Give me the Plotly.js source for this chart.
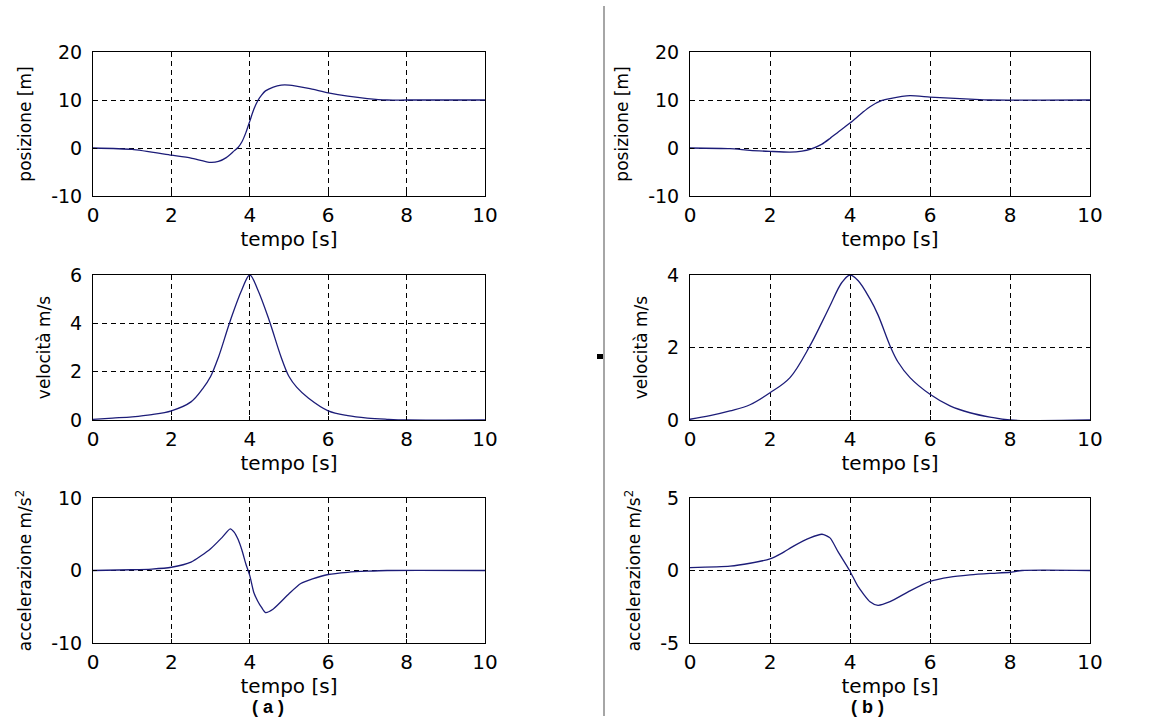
<!DOCTYPE html>
<html>
<head>
<meta charset="utf-8">
<script src="https://cdn.plot.ly/plotly-3.0.1.min.js"></script>
<style>html,body{margin:0;padding:0;background:#fff;}#chart{width:1164px;height:727px;}</style>
</head>
<body>
<div id="chart"></div>
<script>
// ---- data ----
const xTickVals = [0, 2, 4, 6, 8, 10];
const xTickText = ["0", "2", "4", "6", "8", "10"];

// (a) posizione
const posA_t = [0, 1, 2, 2.5, 3, 3.2, 3.4, 3.6, 3.7, 3.8, 3.9, 4.0, 4.1, 4.2, 4.3, 4.4, 4.6, 4.8, 5.0, 5.5, 6.0, 6.5, 7.0, 7.5, 8, 10];
const posA_y = [0, -0.3, -1.5, -2.1, -3, -2.8, -2, -0.6, 0.1, 1.3, 3.2, 5.6, 8, 9.8, 11, 11.9, 12.7, 13.1, 13.1, 12.4, 11.5, 10.8, 10.3, 10, 10, 10];
// (a) velocità
const velA_t = [0, 0.5, 1, 1.5, 2, 2.5, 2.8, 3, 3.2, 3.5, 3.8, 4, 4.2, 4.5, 4.8, 5, 5.2, 5.5, 6, 6.5, 7, 7.5, 8, 10];
const velA_y = [0.03, 0.08, 0.13, 0.22, 0.38, 0.75, 1.3, 1.8, 2.6, 4.1, 5.4, 6, 5.4, 4.1, 2.6, 1.8, 1.35, 0.9, 0.38, 0.18, 0.08, 0.03, 0, 0];
// (a) accelerazione
const accA_t = [0, 1, 1.5, 2, 2.5, 3, 3.3, 3.5, 3.6, 3.7, 3.8, 3.9, 4, 4.1, 4.2, 4.3, 4.4, 4.6, 5, 5.3, 5.6, 6, 6.5, 7, 7.5, 10];
const accA_y = [0, 0.1, 0.2, 0.45, 1.15, 3, 4.6, 5.75, 5.3, 4.3, 2.8, 0.9, -0.7, -3, -4.2, -5.1, -5.8, -5.3, -3.2, -1.8, -1.15, -0.55, -0.25, -0.1, 0, 0];

// (b) posizione
const posB_t = [0, 1, 1.5, 2, 2.5, 2.8, 3, 3.3, 3.5, 3.7, 4, 4.3, 4.5, 4.8, 5, 5.5, 6, 6.5, 7, 7.5, 10];
const posB_y = [0, -0.15, -0.5, -0.7, -0.85, -0.65, -0.3, 0.8, 2.0, 3.3, 5.2, 7.3, 8.6, 9.9, 10.3, 10.9, 10.6, 10.4, 10.2, 10, 10];
// (b) velocità
const velB_t = [0, 0.5, 1, 1.5, 2, 2.5, 3, 3.3, 3.5, 3.8, 4, 4.2, 4.5, 4.7, 5, 5.2, 5.5, 6, 6.5, 7, 7.5, 8, 10];
const velB_y = [0.02, 0.12, 0.25, 0.42, 0.75, 1.17, 2.05, 2.7, 3.15, 3.8, 4, 3.85, 3.34, 2.9, 2.05, 1.6, 1.17, 0.71, 0.39, 0.2, 0.08, 0, 0];
// (b) accelerazione
const accB_t = [0, 1, 1.5, 2, 2.3, 2.6, 3, 3.3, 3.5, 3.7, 4, 4.2, 4.5, 4.7, 5, 5.5, 6, 6.5, 7, 7.5, 8, 8.3, 10];
const accB_y = [0.2, 0.3, 0.5, 0.8, 1.2, 1.7, 2.25, 2.5, 2.25, 1.3, -0.05, -1.1, -2.15, -2.4, -2.15, -1.4, -0.75, -0.45, -0.3, -0.2, -0.12, 0, 0];

// y-axis ticks and titles
const posTickVals = [-10, 0, 10, 20];
const posTickText = ["-10", "0", "10", "20"];
const velATickVals = [0, 2, 4, 6];
const velBTickVals = [0, 2, 4];
const accATickVals = [-10, 0, 10];
const accATickText = ["-10", "0", "10"];
const accBTickVals = [-5, 0, 5];
const accBTickText = ["-5", "0", "5"];
const xTitle = "tempo [s]";
const yTitles = ["posizione [m]", "velocità m/s", "accelerazione m/s<sup>2</sup>"];
const panelLabels = ["( a )", "( b )"];

// ---- layout helpers ----
const W = 1164, H = 727;
const FONT = "DejaVu Sans, Arial, sans-serif";
const lineColor = "#1c1c78";
const colX = [[93, 485], [690, 1090]];
const rowY = [[52, 196], [275, 420], [498, 643]];
const px2x = p => p / W;
const px2y = p => 1 - p / H;

function xAxis(col, row, anchor) {
  return {
    domain: [px2x(colX[col][0]), px2x(colX[col][1])],
    anchor: anchor,
    range: [0, 10],
    tickmode: "array", tickvals: xTickVals, ticktext: xTickText,
    ticks: "inside", ticklen: 4, tickcolor: "#000",
    showline: true, linecolor: "#000", linewidth: 1, mirror: true,
    showgrid: true, gridcolor: "#000", gridwidth: 1, griddash: "5px,4px",
    zeroline: false,
    tickfont: {family: FONT, size: 20, color: "#000"},
    ticklabelstandoff: 1,
    title: {text: xTitle, font: {family: FONT, size: 20, color: "#000"}, standoff: 2},
    fixedrange: true
  };
}
function yAxis(col, row, anchor, range, vals, text, title) {
  return {
    domain: [px2y(rowY[row][1]), px2y(rowY[row][0])],
    anchor: anchor,
    range: range,
    tickmode: "array", tickvals: vals, ticktext: text,
    ticks: "inside", ticklen: 4, tickcolor: "#000",
    showline: true, linecolor: "#000", linewidth: 1, mirror: true,
    showgrid: true, gridcolor: "#000", gridwidth: 1, griddash: "5px,4px",
    zeroline: false,
    tickfont: {family: FONT, size: 19, color: "#000"},
    ticklabelstandoff: 6,
    title: {text: title, font: {family: FONT, size: 17, color: "#000"}, standoff: 15},
    fixedrange: true
  };
}

const series = [
  [posA_t, posA_y, 0.6], [velA_t, velA_y, 1], [accA_t, accA_y, 0.6],
  [posB_t, posB_y, 0.6], [velB_t, velB_y, 1], [accB_t, accB_y, 0.6]
];
const traces = series.map((s, i) => ({
  x: s[0], y: s[1], type: "scatter", mode: "lines",
  line: {color: lineColor, width: 1.3, shape: "spline", smoothing: s[2]},
  xaxis: "x" + (i === 0 ? "" : i + 1),
  yaxis: "y" + (i === 0 ? "" : i + 1),
  hoverinfo: "skip", showlegend: false
}));

const labelFont = {family: "Liberation Sans, Arial, sans-serif", size: 18, color: "#000"};
const layout = {
  width: W, height: H,
  margin: {l: 0, r: 0, t: 0, b: 0},
  paper_bgcolor: "#fff", plot_bgcolor: "#fff",
  showlegend: false,
  font: {family: FONT, color: "#000"},
  xaxis:  xAxis(0, 0, "y"),
  yaxis:  yAxis(0, 0, "x",  [-10, 20], posTickVals, posTickText, yTitles[0]),
  xaxis2: xAxis(0, 1, "y2"),
  yaxis2: yAxis(0, 1, "x2", [0, 6], velATickVals, velATickVals.map(String), yTitles[1]),
  xaxis3: xAxis(0, 2, "y3"),
  yaxis3: yAxis(0, 2, "x3", [-10, 10], accATickVals, accATickText, yTitles[2]),
  xaxis4: xAxis(1, 0, "y4"),
  yaxis4: yAxis(1, 0, "x4", [-10, 20], posTickVals, posTickText, yTitles[0]),
  xaxis5: xAxis(1, 1, "y5"),
  yaxis5: yAxis(1, 1, "x5", [0, 4], velBTickVals, velBTickVals.map(String), yTitles[1]),
  xaxis6: xAxis(1, 2, "y6"),
  yaxis6: yAxis(1, 2, "x6", [-5, 5], accBTickVals, accBTickText, yTitles[2]),
  shapes: [
    {type: "line", xref: "paper", yref: "paper",
     x0: px2x(604), x1: px2x(604), y0: px2y(6), y1: px2y(716),
     line: {color: "#a6a6a6", width: 2}},
    {type: "rect", xref: "paper", yref: "paper",
     x0: px2x(597), x1: px2x(603), y0: px2y(354), y1: px2y(359),
     fillcolor: "#000", line: {width: 0}}
  ],
  annotations: [
    {text: "<b>" + panelLabels[0] + "</b>", xref: "paper", yref: "paper",
     x: px2x(268), y: px2y(707), xanchor: "center", yanchor: "middle",
     showarrow: false, font: labelFont},
    {text: "<b>" + panelLabels[1] + "</b>", xref: "paper", yref: "paper",
     x: px2x(867), y: px2y(707), xanchor: "center", yanchor: "middle",
     showarrow: false, font: labelFont}
  ]
};

Plotly.newPlot("chart", traces, layout, {staticPlot: true, displayModeBar: false});
</script>
</body>
</html>
